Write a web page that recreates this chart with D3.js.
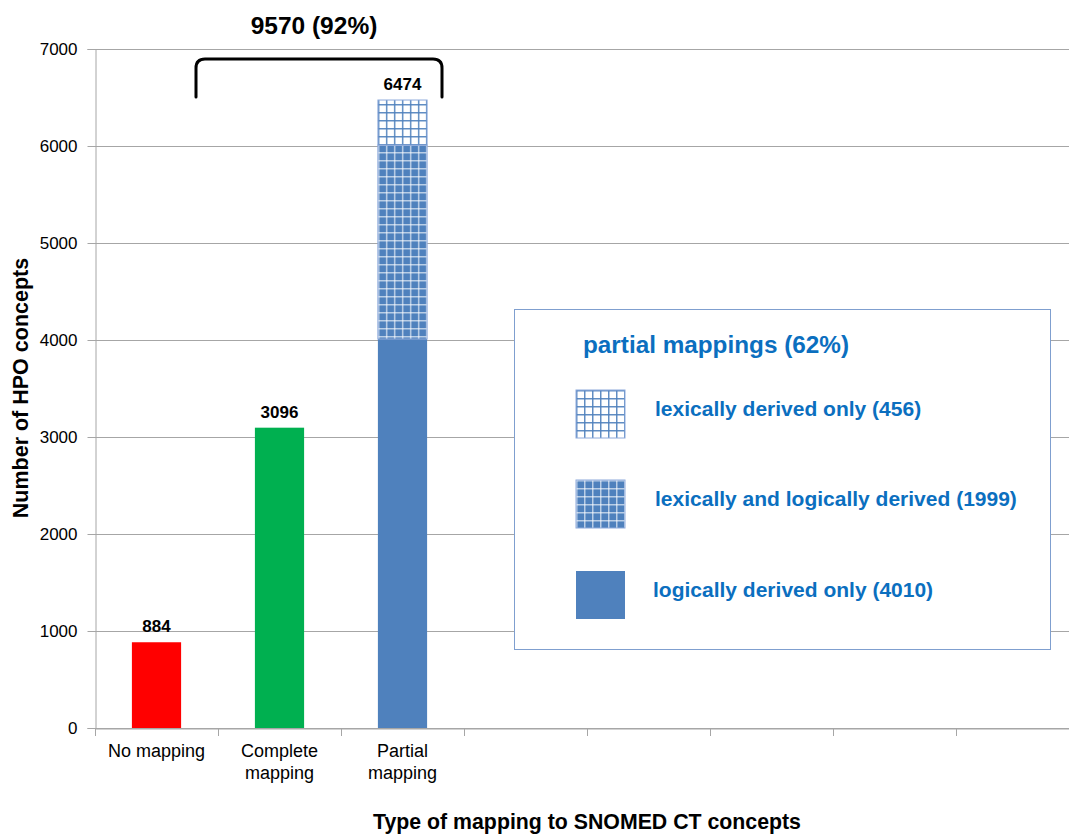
<!DOCTYPE html>
<html>
<head>
<meta charset="utf-8">
<script src="https://cdn.jsdelivr.net/npm/d3@7"></script>
<style>
  html, body { margin: 0; padding: 0; background: #fff; }
  svg { display: block; font-family: "Liberation Sans", Arial, sans-serif; }
</style>
</head>
<body>
<svg id="chart" width="1069" height="837"></svg>
<script>
// ---- data ----
const categories = ["No mapping", "Complete mapping", "Partial mapping", "", "", "", "", ""];
const barTotals = [884, 3096, 6474];
const barColors = ["#ff0000", "#00b050"];
const partialSegmentNames = ["logically derived only", "lexically and logically derived", "lexically derived only"];
const partialSegmentValues = [4010, 1999, 465];
const legendLabelValues = [4010, 1999, 456];
const yTicks = [0, 1000, 2000, 3000, 4000, 5000, 6000, 7000];
const braceTitle = "9570 (92%)";
const legendTitle = "partial mappings (62%)";

const svg = d3.select("#chart");
const blue = "#4f81bd";
const textBlue = "#0b6fbf";

const x = d3.scaleBand().domain(d3.range(categories.length)).range([95, 1079]);
const y = d3.scaleLinear().domain([0, 7000]).range([728, 49]);
const barW = x.bandwidth() * 0.4;

// patterns
const defs = svg.append("defs");
const cell = 8;
function gridPattern(id, bg, line, lineOpacity, lw) {
  const p = defs.append("pattern").attr("id", id).attr("patternUnits", "userSpaceOnUse")
    .attr("width", cell).attr("height", cell).attr("x", 0).attr("y", 0);
  p.append("rect").attr("width", cell).attr("height", cell).attr("fill", bg);
  p.append("line").attr("x1", 0.75).attr("x2", 0.75).attr("y1", 0).attr("y2", cell)
    .attr("stroke", line).attr("stroke-width", lw).attr("stroke-opacity", lineOpacity);
  p.append("line").attr("x1", 0).attr("x2", cell).attr("y1", 0.75).attr("y2", 0.75)
    .attr("stroke", line).attr("stroke-width", lw).attr("stroke-opacity", lineOpacity);
}
gridPattern("patDense", blue, "#ffffff", 0.6, 1.5);
gridPattern("patLight", "#ffffff", blue, 0.9, 1.5);
const segFills = [blue, "url(#patDense)", "url(#patLight)"];

// gridlines
svg.append("g").selectAll("line").data(yTicks).join("line")
  .attr("x1", 95).attr("x2", 1069)
  .attr("y1", d => Math.round(y(d)) + 0.5).attr("y2", d => Math.round(y(d)) + 0.5)
  .attr("stroke", "#a6a6a6").attr("stroke-width", 1);

// y axis
const yAxis = svg.append("g").attr("transform", "translate(95.5,0)")
  .call(d3.axisLeft(y).tickValues(yTicks).tickSize(8).tickPadding(10).tickFormat(d3.format("d")));
yAxis.select(".domain").attr("stroke", "#a6a6a6");
yAxis.selectAll(".tick line").attr("stroke", "#a6a6a6");
yAxis.selectAll("text").attr("font-size", 17).attr("fill", "#000")
  .attr("font-family", "Liberation Sans, Arial, sans-serif");

// x axis
const xAxis = svg.append("g").attr("transform", "translate(0,728.5)")
  .call(d3.axisBottom(x).tickSize(0).tickFormat(""));
xAxis.select(".domain").attr("stroke", "#a6a6a6");
svg.append("g").selectAll("line").data(d3.range(categories.length + 1)).join("line")
  .attr("x1", i => Math.round(95 + i * x.step()) + 0.5)
  .attr("x2", i => Math.round(95 + i * x.step()) + 0.5)
  .attr("y1", 728).attr("y2", 736).attr("stroke", "#a6a6a6");

// category labels
categories.forEach((c, i) => {
  if (!c) return;
  const lines = (c === "No mapping") ? [c] : c.split(" ");
  const t = svg.append("text").attr("x", x(i) + x.bandwidth() / 2).attr("y", 757)
    .attr("text-anchor", "middle").attr("font-size", 18).attr("fill", "#000");
  lines.forEach((l, k) => t.append("tspan").attr("x", x(i) + x.bandwidth() / 2).attr("dy", k === 0 ? 0 : 22).text(l));
});

// simple bars
svg.append("g").selectAll("rect").data(barColors).join("rect")
  .attr("x", (d, i) => x(i) + (x.bandwidth() - barW) / 2)
  .attr("width", barW)
  .attr("y", (d, i) => y(barTotals[i]))
  .attr("height", (d, i) => y(0) - y(barTotals[i]))
  .attr("fill", d => d);

// stacked partial bar
let acc = 0;
const stacks = partialSegmentValues.map((v, i) => { const s = { y0: acc, y1: acc + v, fill: segFills[i] }; acc += v; return s; });
const px = x(2) + (x.bandwidth() - barW) / 2;
defs.selectAll("pattern").attr("x", px).attr("y", 0);
svg.append("g").selectAll("rect").data(stacks).join("rect")
  .attr("x", px).attr("width", barW)
  .attr("y", d => y(d.y1)).attr("height", d => y(d.y0) - y(d.y1))
  .attr("fill", d => d.fill)
  .attr("stroke", (d, i) => i === 0 ? "none" : "#8eaadb").attr("stroke-width", 1);

// bar value labels
svg.append("g").selectAll("text").data(barTotals).join("text")
  .attr("x", (d, i) => x(i) + x.bandwidth() / 2)
  .attr("y", d => y(d) - 10)
  .attr("text-anchor", "middle").attr("font-size", 17).attr("font-weight", "bold")
  .text(d => d);

// brace
const bx0 = 196, bx1 = 442, bTop = 59, bBot = 97, r = 9;
svg.append("path")
  .attr("d", `M${bx0},${bBot} L${bx0},${bTop + r} Q${bx0},${bTop} ${bx0 + r},${bTop} L${bx1 - r},${bTop} Q${bx1},${bTop} ${bx1},${bTop + r} L${bx1},${bBot}`)
  .attr("fill", "none").attr("stroke", "#000").attr("stroke-width", 3).attr("stroke-linecap", "round");
svg.append("text").attr("x", 314).attr("y", 34).attr("text-anchor", "middle")
  .attr("font-size", 24.5).attr("font-weight", "bold").text(braceTitle);

// axis titles
svg.append("text").attr("transform", "translate(28,388) rotate(-90)").attr("text-anchor", "middle")
  .attr("font-size", 21.5).attr("font-weight", "bold").text("Number of HPO concepts");
svg.append("text").attr("x", 587).attr("y", 829).attr("text-anchor", "middle")
  .attr("font-size", 21.3).attr("font-weight", "bold").text("Type of mapping to SNOMED CT concepts");

// legend
const lg = svg.append("g");
lg.append("rect").attr("x", 514.5).attr("y", 309.5).attr("width", 536).attr("height", 340)
  .attr("fill", "#fff").attr("stroke", "#7f9fcf").attr("stroke-width", 1);
lg.append("text").attr("x", 583).attr("y", 353).attr("font-size", 24.3).attr("font-weight", "bold")
  .attr("fill", textBlue).text(legendTitle);
const legendOrder = [2, 1, 0];
const swY = [390, 480, 571];
const txtX = [655, 655, 653];
legendOrder.forEach((si, k) => {
  const pid = "lp" + k;
  if (si > 0) {
    const src = si === 1 ? "#patDense" : "#patLight";
    const p = defs.append("pattern").attr("id", pid).attr("patternUnits", "userSpaceOnUse")
      .attr("width", cell).attr("height", cell).attr("x", 576).attr("y", swY[k]);
    p.html(defs.select(src).html());
  }
  lg.append("rect").attr("x", 576).attr("y", swY[k]).attr("width", 49).attr("height", 48)
    .attr("fill", si === 0 ? blue : `url(#${pid})`)
    .attr("stroke", si === 0 ? "none" : "#8eaadb");
  lg.append("text").attr("x", txtX[k]).attr("y", swY[k] + 26).attr("font-size", 21).attr("font-weight", "bold")
    .attr("fill", textBlue).text(`${partialSegmentNames[si]} (${legendLabelValues[si]})`);
});
</script>
</body>
</html>
